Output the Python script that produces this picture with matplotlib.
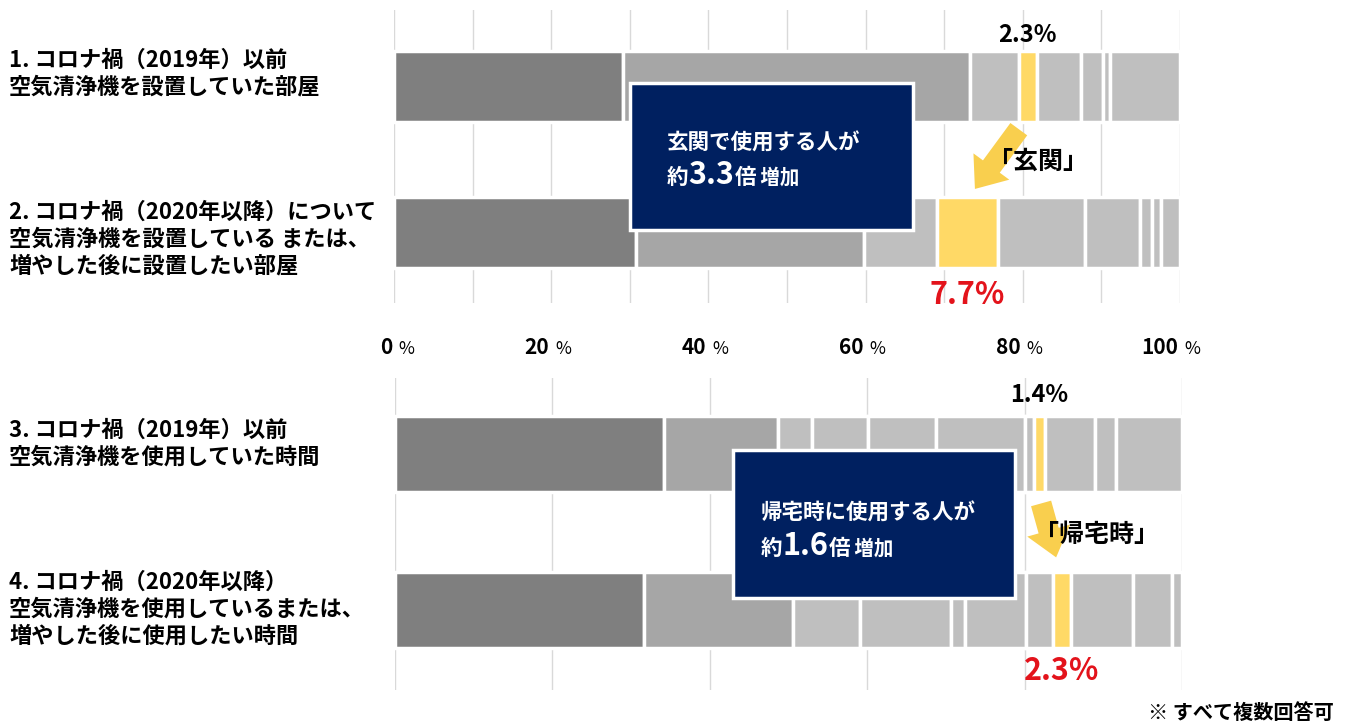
import matplotlib
matplotlib.use("Agg")
import matplotlib.pyplot as plt
import matplotlib.transforms as mtransforms
import numpy as np
from matplotlib.patches import FancyArrowPatch, Rectangle

plt.rcParams["font.family"] = ["Noto Sans CJK JP", "DejaVu Sans"]

W, H = 1350, 726

# shares in %, left to right; the yellow segment is the highlighted answer
room_before = [29.1, 44.2, 6.2, 2.3, 5.6, 2.8, 0.9, 8.9]
room_after = [30.8, 29.0, 9.3, 7.7, 11.1, 7.0, 1.5, 1.2, 2.4]
time_before = [34.2, 14.5, 4.3, 7.1, 8.6, 11.4, 1.1, 1.4, 6.4, 2.6, 8.4]
time_after = [31.7, 18.9, 8.5, 11.5, 1.8, 7.8, 3.4, 2.3, 7.9, 4.9, 1.3]
room_hi = 3   # 玄関
time_hi = 7   # 帰宅時

room_labels = [
    ["1. コロナ禍（2019年）以前", "空気清浄機を設置していた部屋"],
    ["2. コロナ禍（2020年以降）について", "空気清浄機を設置している または、", "増やした後に設置したい部屋"],
]
time_labels = [
    ["3. コロナ禍（2019年）以前", "空気清浄機を使用していた時間"],
    ["4. コロナ禍（2020年以降）", "空気清浄機を使用しているまたは、", "増やした後に使用したい時間"],
]
tick_values = [0, 20, 40, 60, 80, 100]

DARK, MID, LIGHT, YELLOW = "#7f7f7f", "#a6a6a6", "#bfbfbf", "#ffd966"
ARROW = "#f9cf4e"
NAVY = "#002060"
RED = "#e3131b"


def fx(x):
    return x / W


def fy(y):
    return 1 - y / H


def draw_bars(ax, rows, hi, height, grid_step):
    for i, vals in enumerate(rows):
        vals = np.asarray(vals)
        left = np.concatenate([[0], np.cumsum(vals)[:-1]])
        colors = [DARK, MID] + [LIGHT] * (len(vals) - 2)
        colors[hi] = YELLOW
        ax.barh(i, vals, left=left, height=height, color=colors,
                edgecolor="white", linewidth=2.5, zorder=2)
    ax.set_xlim(0, 100)
    ax.set_xticks(np.arange(0, 101, grid_step))
    ax.set_yticks([])
    ax.grid(axis="x", color="#d9d9d9", linewidth=1, zorder=0)
    ax.tick_params(length=0, labelbottom=False)
    for s in ax.spines.values():
        s.set_visible(False)


def rich_line(fig, x_px, y_px, pieces):
    """Write pieces of differing size one after another on a shared baseline."""
    renderer = fig.canvas.get_renderer()
    x = x_px
    for s, size in pieces:
        t = fig.text(fx(x), fy(y_px), s, fontsize=size, color="white",
                     fontweight="bold", ha="left", va="baseline", zorder=6)
        x += t.get_window_extent(renderer).width


fig = plt.figure(figsize=(W / 100, H / 100), dpi=100)
fig.patch.set_facecolor("white")

ax_top = fig.add_axes([fx(394), fy(303), (1180 - 394) / W, (303 - 10) / H])
ax_bot = fig.add_axes([fx(395), fy(690), (1182 - 395) / W, (690 - 378) / H])

draw_bars(ax_top, [room_before, room_after], room_hi, 0.486, 10)
ax_top.set_ylim(1.486, -0.521)
draw_bars(ax_bot, [time_before, time_after], time_hi, 0.484, 20)
ax_bot.set_ylim(1.513, -0.487)

# x tick labels between the panels
blend = mtransforms.blended_transform_factory(ax_top.transData, fig.transFigure)
for v in tick_values:
    ax_top.annotate(str(v), xy=(v, fy(348)), xycoords=blend, xytext=(-2, 0),
                    textcoords="offset pixels", ha="right", va="center",
                    fontsize=15, fontweight="bold", annotation_clip=False)
    ax_top.annotate("%", xy=(v, fy(349)), xycoords=blend, xytext=(4, 0),
                    textcoords="offset pixels", ha="left", va="center",
                    fontsize=12.5, annotation_clip=False)

# row labels on the left
label_rows = [
    (room_labels[0], [60, 87]),
    (room_labels[1], [212, 239, 266]),
    (time_labels[0], [430, 457]),
    (time_labels[1], [582, 609, 636]),
]
for lines, ys in label_rows:
    for line, y in zip(lines, ys):
        fig.text(fx(9), fy(y), line, fontsize=16, fontweight="bold",
                 ha="left", va="center")

# highlighted values: (axes, row values, highlighted index, y in data units, size, colour)
for ax, vals, hi, yy, size, color in [
    (ax_top, room_before, room_hi, -0.35, 17, "black"),
    (ax_top, room_after, room_hi, 1.43, 22, RED),
    (ax_bot, time_before, time_hi, -0.38, 17, "black"),
    (ax_bot, time_after, time_hi, 1.39, 22, RED),
]:
    xc = sum(vals[:hi]) + vals[hi] / 2
    ax.text(xc, yy, f"{vals[hi]}%", fontsize=size, fontweight="bold",
            color=color, ha="center", va="center", zorder=6, clip_on=False)

# navy call-out boxes
ax_top.add_patch(Rectangle((30.0, -0.021), 36.0, 1.007, facecolor=NAVY,
                           edgecolor="white", linewidth=2.5, zorder=5, clip_on=False))
ax_bot.add_patch(Rectangle((42.9, -0.026), 35.9, 0.949, facecolor=NAVY,
                           edgecolor="white", linewidth=2.5, zorder=5, clip_on=False))
fig.canvas.draw()
rich_line(fig, 667, 150, [("玄関で使用する人が", 15.5)])
rich_line(fig, 667, 184, [("約", 15.5), ("3.3", 22), ("倍", 15.5), (" 増加", 14)])
rich_line(fig, 761, 520, [("帰宅時に使用する人が", 15.5)])
rich_line(fig, 761, 555, [("約", 15.5), ("1.6", 22), ("倍", 15.5), (" 増加", 14)])

# yellow arrows pointing at the grown segment
arrow_style = "simple,head_width=32,head_length=20,tail_width=15"
ax_top.add_patch(FancyArrowPatch((79.7, 0.28), (73.7, 0.72), arrowstyle=arrow_style,
                                 mutation_scale=1, facecolor=ARROW, edgecolor="none",
                                 zorder=4, clip_on=False))
ax_bot.add_patch(FancyArrowPatch((82.0, 0.30), (84.1, 0.68), arrowstyle=arrow_style,
                                 mutation_scale=1, facecolor=ARROW, edgecolor="none",
                                 zorder=4, clip_on=False))
fig.text(fx(1038), fy(162), "「玄関」", fontsize=18, fontweight="bold",
         ha="center", va="center", zorder=6)
fig.text(fx(1097), fy(535), "「帰宅時」", fontsize=18, fontweight="bold",
         ha="center", va="center", zorder=6)

fig.text(fx(1334), fy(712), "※ すべて複数回答可", fontsize=14.5, fontweight="bold",
         ha="right", va="center")

fig.savefig("out.png", dpi=100, facecolor="white")
